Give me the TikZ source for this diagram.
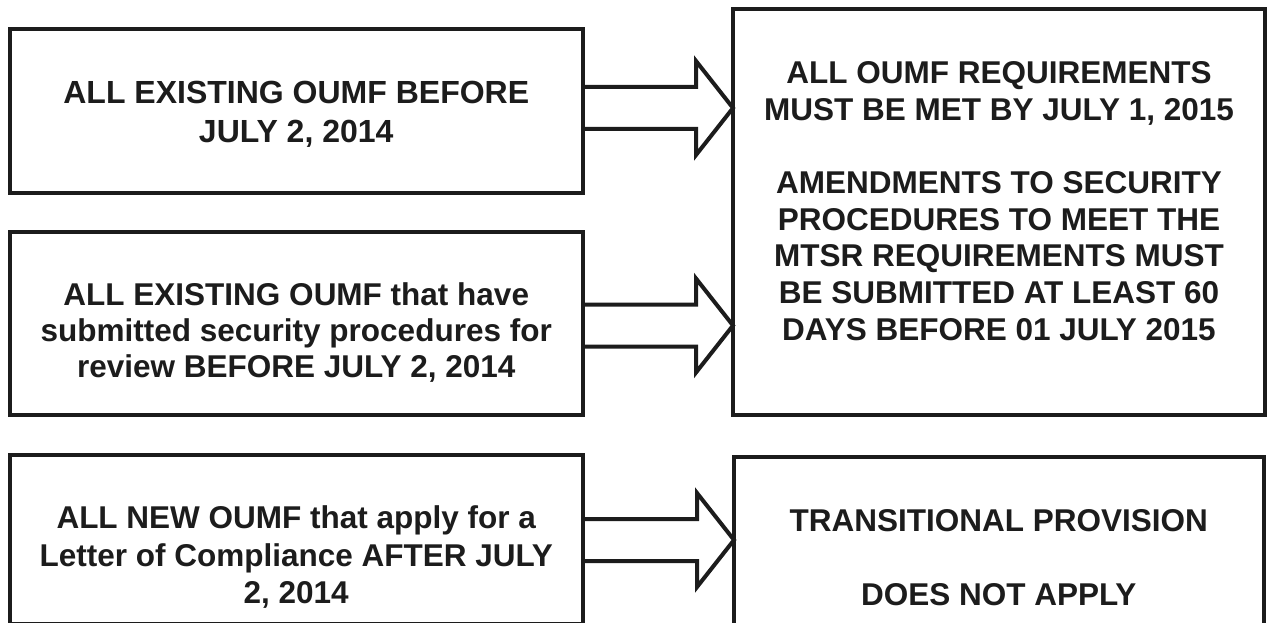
\documentclass[tikz,border=0pt]{standalone}
\usepackage{fontspec}
\setmainfont{Liberation Sans}
\usetikzlibrary{calc}
\definecolor{ink}{RGB}{28,28,28}
\newcommand\myblockarrow[2]{%
  \draw[arrowline] ($(#1)+(0,-21)$) -- ($(#2)+(-37,-21)$) -- ($(#2)+(-37,-47)$)
    -- (#2) -- ($(#2)+(-37,47)$) -- ($(#2)+(-37,21)$) -- ($(#1)+(0,21)$);}
\begin{document}
\begin{tikzpicture}[x=1pt,y=-1pt,
  box/.style={draw=ink,line width=4pt,rectangle,inner sep=0pt,outer sep=0pt},
  txt/.style={align=center,inner sep=0pt,outer sep=0pt,text=ink},
  arrowline/.style={draw=ink,line width=4pt,line join=miter}]
\useasboundingbox (0,0) rectangle (1268,623);
\fill[white] (0,0) rectangle (1268,623);
% boxes
\node[box,minimum width=572.5pt,minimum height=164pt] (A) at (296.25,111) {};
\node[box,minimum width=572.5pt,minimum height=183pt] (B) at (296.25,323.5) {};
\node[box,minimum width=572.5pt,minimum height=169pt] (C) at (296.25,539.5) {};
\node[box,minimum width=532pt,minimum height=406pt] (R) at (999,212) {};
\node[box,minimum width=529.5pt,minimum height=175pt] (D) at (998.75,544.5) {};
% texts
\node[txt,font=\bfseries\fontsize{32}{39}\selectfont] (tA) at (296.25,114.9)
  {\strut ALL EXISTING OUMF BEFORE\\\strut JULY 2, 2014};
\node[txt,font=\bfseries\fontsize{31.5}{36}\selectfont] (tB) at (296.25,334.1)
  {\strut ALL EXISTING OUMF that have\\\strut submitted security procedures for\\\strut review BEFORE JULY 2, 2014};
\node[txt,font=\bfseries\fontsize{31.5}{37.5}\selectfont] (tC) at (296.25,558.5)
  {\strut ALL NEW OUMF that apply for a\\\strut Letter of Compliance AFTER JULY\\\strut 2, 2014};
\node[txt,font=\bfseries\fontsize{31.5}{36.64}\selectfont] (tR) at (999,204.7)
  {\strut ALL OUMF REQUIREMENTS\\\strut MUST BE MET BY JULY 1, 2015\\\strut\\\strut AMENDMENTS TO SECURITY\\\strut PROCEDURES TO MEET THE\\\strut MTSR REQUIREMENTS MUST\\\strut BE SUBMITTED AT LEAST 60\\\strut DAYS BEFORE 01 JULY 2015};
\node[txt,font=\bfseries\fontsize{31.5}{37}\selectfont] (tD) at (998.75,560.9)
  {\strut TRANSITIONAL PROVISION\\\strut\\\strut DOES NOT APPLY};
% arrows
\coordinate (m1) at (0,108);
\coordinate (m2) at (0,325.5);
\coordinate (m3) at (0,540);
\myblockarrow{A.east |- m1}{R.west |- m1}
\myblockarrow{B.east |- m2}{R.west |- m2}
\myblockarrow{C.east |- m3}{D.west |- m3}
\end{tikzpicture}
\end{document}
